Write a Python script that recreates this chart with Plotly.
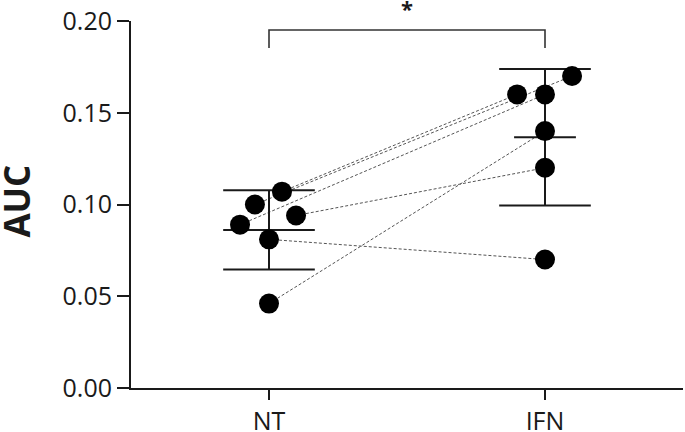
import numpy as np
import plotly.graph_objects as go

# ---- data ----
categories = ["NT", "IFN"]
nt_values = [0.107, 0.100, 0.089, 0.094, 0.081, 0.046]
ifn_values = [0.160, 0.170, 0.160, 0.120, 0.070, 0.140]
y_tick_vals = [0.00, 0.05, 0.10, 0.15, 0.20]
y_tick_text = ["0.00", "0.05", "0.10", "0.15", "0.20"]
significance = "*"

# ---- style (point jitter so overlapping dots are visible) ----
nt_jitter = [0.047, -0.051, -0.105, 0.098, 0.0, 0.0]
ifn_jitter = [-0.101, 0.098, 0.0, 0.0, 0.0, 0.0]
cap_half = 0.166
mean_half = [0.166, 0.112]
FONT = "Open Sans"
INK = "#1a1a1a"

fig = go.Figure()

# paired dashed lines
for i in range(len(nt_values)):
    fig.add_trace(go.Scatter(
        x=[0 + nt_jitter[i], 1 + ifn_jitter[i]],
        y=[nt_values[i], ifn_values[i]],
        mode="lines",
        line=dict(color="#555555", width=1, dash="3px,2px"),
        hoverinfo="skip", showlegend=False, cliponaxis=False))

# mean +/- SD
groups = [nt_values, ifn_values]
for gi, vals in enumerate(groups):
    m = float(np.mean(vals))
    sd = float(np.std(vals, ddof=1))
    xs = [gi - cap_half, gi + cap_half, None,
          gi - cap_half, gi + cap_half, None,
          gi, gi, None,
          gi - mean_half[gi], gi + mean_half[gi]]
    ys = [m + sd, m + sd, None,
          m - sd, m - sd, None,
          m + sd, m - sd, None,
          m, m]
    fig.add_trace(go.Scatter(
        x=xs, y=ys, mode="lines",
        line=dict(color=INK, width=2),
        hoverinfo="skip", showlegend=False, cliponaxis=False))

# points
fig.add_trace(go.Scatter(
    x=[0 + j for j in nt_jitter], y=nt_values, mode="markers",
    marker=dict(color="black", size=20), showlegend=False, cliponaxis=False))
fig.add_trace(go.Scatter(
    x=[1 + j for j in ifn_jitter], y=ifn_values, mode="markers",
    marker=dict(color="black", size=20), showlegend=False, cliponaxis=False))

# significance bracket
fig.add_trace(go.Scatter(
    x=[0, 0, 1, 1], y=[0.1853, 0.1951, 0.1951, 0.1853], mode="lines",
    line=dict(color="#333333", width=1.6), hoverinfo="skip",
    showlegend=False, cliponaxis=False))
fig.add_annotation(x=0.5, y=0.989, text="<b>" + significance + "</b>", showarrow=False,
                   font=dict(family=FONT, size=22, color=INK),
                   xref="x", yref="paper", xanchor="center", yanchor="bottom")

# y axis title
fig.add_annotation(x=(17 - 131) / 552, y=0.508, xref="paper", yref="paper",
                   text="<b>AUC</b>", textangle=-90, showarrow=False,
                   xanchor="center", yanchor="middle",
                   font=dict(family=FONT, size=35, color=INK))

fig.update_layout(
    width=685, height=432,
    margin=dict(l=131, r=2, t=21, b=44),
    plot_bgcolor="white", paper_bgcolor="white",
    font=dict(family=FONT, size=25, color=INK),
    xaxis=dict(range=[-0.5, 1.5], tickvals=[0, 1], ticktext=categories,
               showgrid=False, zeroline=False, showline=True, automargin=False,
               linecolor=INK, linewidth=2, ticks="outside", ticklen=10,
               tickwidth=2, tickcolor=INK, tickfont=dict(size=25)),
    yaxis=dict(range=[0, 0.2], tickvals=y_tick_vals, ticktext=y_tick_text,
               showgrid=False, zeroline=False, showline=True, automargin=False,
               linecolor=INK, linewidth=2, ticks="outside", ticklen=12,
               tickwidth=2, tickcolor=INK, tickfont=dict(size=25)),
)

fig.write_html("out.html", config={"displayModeBar": False},
               post_script="document.body.style.margin='0px';")
